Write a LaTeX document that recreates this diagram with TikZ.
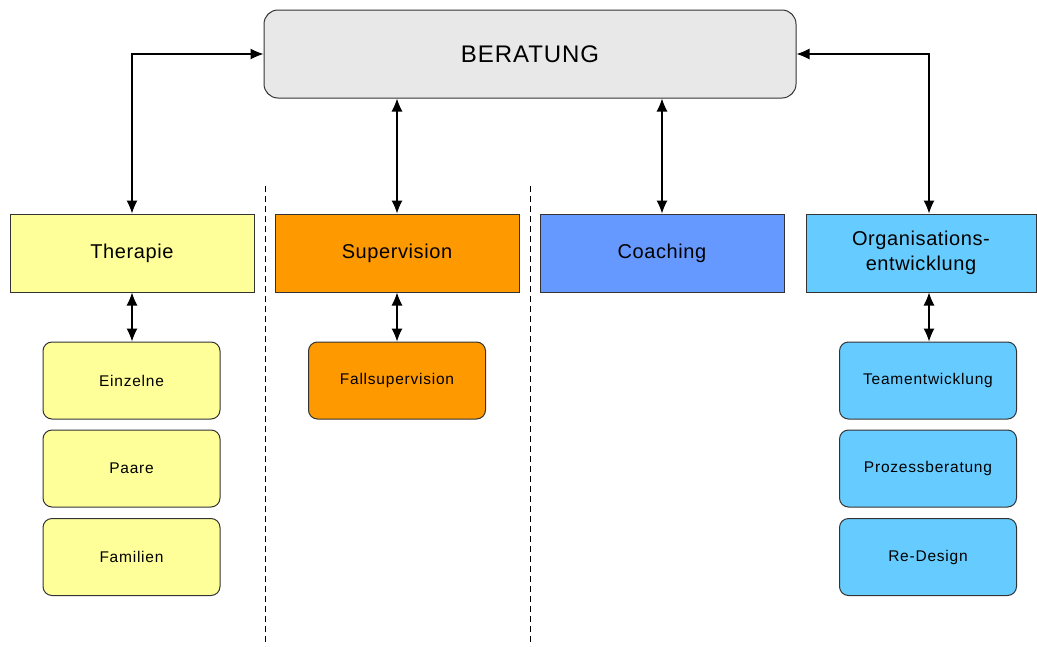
\documentclass[tikz,border=0pt]{standalone}
\usepackage{fontspec}
\setmainfont{Liberation Sans}
\newfontfamily\headfont[LetterSpace=4]{Liberation Sans}
\newfontfamily\fieldfont[LetterSpace=3]{Liberation Sans}
\newfontfamily\subfont[LetterSpace=5]{Liberation Sans}
\usetikzlibrary{arrows.meta}
\definecolor{headgray}{HTML}{E8E8E8}
\definecolor{therapy}{HTML}{FFFF99}
\definecolor{superv}{HTML}{FF9900}
\definecolor{coach}{HTML}{6699FF}
\definecolor{orgdev}{HTML}{66CCFF}
\tikzset{
  box/.style={draw=black!80, line width=1pt, minimum width=244pt, minimum height=78pt, inner sep=0pt, align=center, font=\fieldfont\fontsize{20}{25}\selectfont},
  subbox/.style={draw=black!80, line width=1pt, rounded corners=9pt, minimum width=177pt, minimum height=77pt, inner sep=0pt, font=\subfont\fontsize{15.5}{18}\selectfont},
  link/.style={line width=1.1pt, {Latex[length=13pt,width=11pt]}-{Latex[length=13pt,width=11pt]}},
  divider/.style={line width=0.9pt, dashed, dash pattern=on 6pt off 4pt}
}
\begin{document}
\begin{tikzpicture}[x=1pt,y=-1pt]
  \useasboundingbox (0,0) rectangle (1037,646);
  % top node
  \node[draw=black!80, line width=1pt, rounded corners=14pt, fill=headgray, minimum width=532pt, minimum height=88pt, font=\headfont\fontsize{24}{28}\selectfont] (ber) at (530,54) {BERATUNG};
  % main fields
  \node[box, fill=therapy] (ther) at (132,253) {Therapie};
  \node[box, fill=superv] (sup) at (397,253) {Supervision};
  \node[box, fill=coach] (coa) at (662,253) {Coaching};
  \node[box, fill=orgdev, minimum width=230pt] (org) at (921,253) {Organisations-\\entwicklung};
  % sub fields
  \node[subbox, fill=therapy] (einz) at (131.5,380.5) {Einzelne};
  \node[subbox, fill=therapy] (paar) at (131.5,468.5) {Paare};
  \node[subbox, fill=therapy] (fam) at (131.5,557) {Familien};
  \node[subbox, fill=superv] (fall) at (397,380.5) {Fallsupervision};
  \node[subbox, fill=orgdev] (team) at (928,380.5) {Teamentwicklung};
  \node[subbox, fill=orgdev] (proz) at (928,468.5) {Prozessberatung};
  \node[subbox, fill=orgdev] (rede) at (928,557) {Re-Design};
  % dividers
  \coordinate (d1t) at (265,186); \coordinate (d1b) at (265,646);
  \coordinate (d2t) at (530,186); \coordinate (d2b) at (530,646);
  \draw[divider] (d1t) -- (d1b);
  \draw[divider] (d2t) -- (d2b);
  % connectors
  \draw[link] (ber.west) -| (ther.north);
  \draw[link] (ber.east) -| ([xshift=8pt]org.north);
  \draw[link] (ber.south -| sup.north) -- (sup.north);
  \draw[link] (ber.south -| coa.north) -- (coa.north);
  \draw[link] (ther.south) -- (ther.south |- einz.north);
  \draw[link] (sup.south) -- (sup.south |- fall.north);
  \draw[link] ([xshift=8pt]org.south) -- ([xshift=8pt]org.south |- team.north);
\end{tikzpicture}
\end{document}
